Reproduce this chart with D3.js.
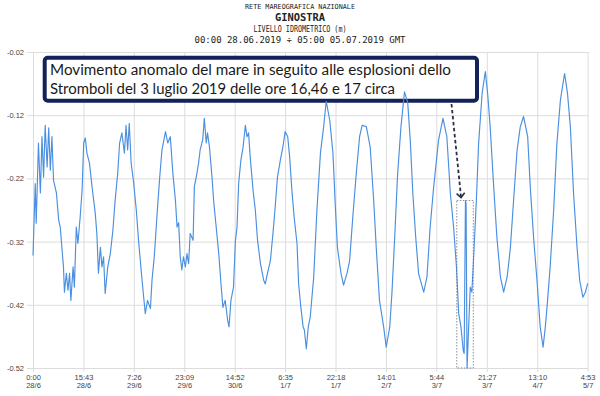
<!DOCTYPE html>
<html>
<head>
<meta charset="utf-8">
<script src="https://cdn.jsdelivr.net/npm/d3@7"></script>
<style>
  body { margin: 0; background: #fff; }
  svg { display: block; }
</style>
</head>
<body>
<svg id="chart" width="600" height="396"></svg>
<script>
// Titles
const titleLines = [
  'RETE MAREOGRAFICA NAZIONALE',
  'GINOSTRA',
  'LIVELLO IDROMETRICO (m)',
  '00:00 28.06.2019 \u00f7 05:00 05.07.2019 GMT'
];
const noteLines = [
  'Movimento anomalo del mare in seguito alle esplosioni dello',
  'Stromboli del 3 luglio 2019 delle ore 16,46 e 17 circa'
];

// Axis ticks (hours from 00:00 28/6, one tick every 15h43m)
const yTicks = [-0.52, -0.42, -0.32, -0.22, -0.12, -0.02];
const xTickHours = [0, 15.72, 31.43, 47.15, 62.87, 78.58, 94.3, 110.02, 125.73, 141.45, 157.17, 172.88];
const xTickTimes = ['0:00', '15:43', '7:26', '23:09', '14:52', '6:35', '22:18', '14:01', '5:44', '21:27', '13:10', '4:53'];
const xTickDays = ['28/6', '28/6', '29/6', '29/6', '30/6', '1/7', '1/7', '2/7', '3/7', '3/7', '4/7', '5/7'];

// Sea level (m), hours from start
const hours = [
  0.0, 0.7, 1.0, 1.7, 2.3, 2.8, 3.3, 3.8, 4.4, 4.9, 5.4, 5.9, 6.4, 7.3, 8.0, 8.5, 9.0, 9.5, 9.8, 10.4,
  10.9, 11.4, 11.8, 12.5, 12.9, 13.5, 14.0, 14.7, 15.3, 15.8, 16.3, 16.8, 17.6, 18.4, 19.4, 19.9, 20.4, 21.0, 21.5, 22.0,
  22.5, 23.3, 24.1, 24.9, 25.6, 26.4, 27.0, 27.7, 28.5, 29.0, 29.5, 30.0, 30.6, 31.4, 32.2, 32.9, 33.8, 34.5, 35.0, 35.7,
  36.6, 37.1, 37.8, 38.7, 39.5, 40.2, 41.3, 42.0, 42.8, 43.6, 44.4, 44.9, 45.4, 45.9, 46.4, 46.9, 47.5, 48.0, 48.5, 49.0,
  49.9, 50.3, 51.1, 51.6, 52.1, 52.9, 53.4, 54.0, 54.4, 55.0, 55.8, 56.3, 57.1, 57.9, 58.6, 59.2, 59.9, 60.7, 61.1, 61.7,
  62.5, 63.1, 63.6, 64.1, 64.8, 65.5, 66.2, 66.7, 67.2, 67.7, 68.6, 69.3, 70.0, 70.9, 71.9, 72.4, 73.1, 74.0, 74.8, 75.5,
  76.2, 77.1, 77.9, 78.6, 79.4, 80.0, 80.7, 81.4, 82.3, 82.8, 83.5, 84.2, 84.6, 85.2, 85.8, 86.4, 87.5, 88.5, 89.6, 90.6,
  91.4, 92.5, 93.5, 94.2, 94.9, 96.0, 96.8, 97.9, 98.7, 99.7, 100.8, 101.8, 102.6, 103.9, 105.1, 106.2, 107.0, 108.0, 109.3, 110.1,
  111.2, 111.9, 112.9, 113.6, 114.7, 115.8, 116.8, 117.6, 118.4, 119.3, 120.2, 121.8, 122.8, 123.8, 124.9, 126.4, 127.8, 129.0, 130.1, 131.1,
  132.0, 132.7, 133.4, 134.1, 134.4, 134.8, 135.0, 135.3, 135.8, 136.3, 136.8, 137.3, 138.2, 138.9, 140.0, 141.0, 141.7, 142.5, 143.6, 144.6,
  145.7, 146.7, 147.8, 148.8, 149.8, 150.9, 151.9, 152.9, 154.2, 155.0, 156.1, 157.1, 158.1, 159.0, 159.7, 160.4, 161.2, 162.3, 163.3, 164.4,
  165.7, 166.6, 167.5, 168.5, 169.6, 170.4, 171.4, 172.2, 172.9
];
const level = [
  -0.342, -0.228, -0.291, -0.164, -0.243, -0.154, -0.218, -0.136, -0.202, -0.140, -0.207, -0.154, -0.223, -0.243, -0.286, -0.297, -0.329, -0.360, -0.400, -0.370,
  -0.397, -0.370, -0.413, -0.360, -0.392, -0.297, -0.323, -0.281, -0.239, -0.164, -0.156, -0.180, -0.196, -0.233, -0.275, -0.307, -0.370, -0.329, -0.360, -0.344,
  -0.402, -0.360, -0.339, -0.302, -0.255, -0.212, -0.164, -0.148, -0.180, -0.136, -0.175, -0.133, -0.196, -0.228, -0.270, -0.318, -0.370, -0.408, -0.434, -0.413,
  -0.426, -0.381, -0.344, -0.275, -0.218, -0.175, -0.146, -0.164, -0.154, -0.212, -0.255, -0.297, -0.290, -0.344, -0.365, -0.344, -0.360, -0.339, -0.355, -0.307,
  -0.318, -0.233, -0.212, -0.196, -0.175, -0.159, -0.125, -0.164, -0.148, -0.170, -0.218, -0.255, -0.297, -0.339, -0.387, -0.424, -0.413, -0.445, -0.455, -0.413,
  -0.392, -0.318, -0.297, -0.228, -0.191, -0.170, -0.136, -0.154, -0.148, -0.186, -0.239, -0.270, -0.318, -0.355, -0.381, -0.387, -0.370, -0.350, -0.307, -0.265,
  -0.218, -0.191, -0.170, -0.146, -0.154, -0.186, -0.239, -0.281, -0.323, -0.387, -0.424, -0.455, -0.460, -0.490, -0.455, -0.440, -0.376, -0.270, -0.180, -0.138,
  -0.098, -0.128, -0.180, -0.260, -0.330, -0.370, -0.389, -0.370, -0.350, -0.280, -0.210, -0.154, -0.136, -0.138, -0.170, -0.255, -0.330, -0.413, -0.455, -0.487,
  -0.455, -0.400, -0.297, -0.218, -0.138, -0.083, -0.100, -0.160, -0.244, -0.313, -0.371, -0.400, -0.376, -0.297, -0.233, -0.160, -0.125, -0.154, -0.244, -0.297,
  -0.360, -0.434, -0.455, -0.492, -0.497, -0.255, -0.260, -0.520, -0.455, -0.392, -0.400, -0.350, -0.255, -0.165, -0.085, -0.051, -0.085, -0.138, -0.233, -0.313,
  -0.376, -0.400, -0.376, -0.330, -0.255, -0.175, -0.138, -0.122, -0.154, -0.233, -0.318, -0.381, -0.455, -0.487, -0.455, -0.413, -0.360, -0.270, -0.165, -0.096,
  -0.054, -0.085, -0.138, -0.244, -0.330, -0.381, -0.408, -0.400, -0.386
];

// Explosion window highlighted by the dotted box (hours, top level in m)
const eventWindow = [132.1, 137.25];
const eventTop = -0.255;

const svg = d3.select('#chart');
const plotLeft = 33, plotRight = 588, plotTop = 52, plotBottom = 368;

const x = d3.scaleLinear().domain([0, 173]).range([plotLeft, plotRight]);
const y = d3.scaleLinear().domain([-0.52, -0.02]).range([plotBottom, plotTop]);

// Title block
const titleStyle = [
  { y: 9, size: 7, weight: 'normal', len: 110 },
  { y: 21, size: 10, weight: 'bold', len: 50 },
  { y: 32, size: 8.5, weight: 'normal', len: 93 },
  { y: 43, size: 8.5, weight: 'normal', len: 211 }
];
svg.append('g')
  .selectAll('text')
  .data(titleLines)
  .join('text')
    .attr('x', 300)
    .attr('y', (d, i) => titleStyle[i].y)
    .attr('text-anchor', 'middle')
    .attr('font-family', 'DejaVu Sans Mono, monospace')
    .attr('font-size', (d, i) => titleStyle[i].size)
    .attr('font-weight', (d, i) => titleStyle[i].weight)
    .attr('textLength', (d, i) => titleStyle[i].len)
    .attr('lengthAdjust', 'spacingAndGlyphs')
    .attr('fill', '#222')
    .text(d => d);

// Y axis with grid
const yAxis = svg.append('g')
  .attr('transform', `translate(${plotLeft - 6},0)`)
  .call(d3.axisLeft(y)
    .tickValues(yTicks)
    .tickSize(-(plotRight - plotLeft + 6))
    .tickPadding(3)
    .tickFormat(d => d.toFixed(2)));
yAxis.select('.domain').remove();
yAxis.selectAll('line').attr('stroke', '#dcdcdc');
yAxis.selectAll('text')
  .attr('font-family', 'Liberation Sans, Arial, sans-serif')
  .attr('font-size', 7.5)
  .attr('fill', '#444');

// X axis with grid
const xAxis = svg.append('g')
  .attr('transform', `translate(0,${plotBottom + 4})`)
  .call(d3.axisBottom(x)
    .tickValues(xTickHours)
    .tickSize(-(plotBottom - plotTop + 4))
    .tickFormat(''));
xAxis.select('.domain').remove();
xAxis.selectAll('line').attr('stroke', '#dcdcdc');
xAxis.selectAll('.tick text').remove();
const xLabels = xAxis.selectAll('.tick')
  .append('text')
    .attr('text-anchor', 'middle')
    .attr('font-family', 'Liberation Sans, Arial, sans-serif')
    .attr('font-size', 7.5)
    .attr('fill', '#444');
xLabels.append('tspan')
  .attr('x', 0)
  .attr('y', 7.5)
  .text((d, i) => xTickTimes[i]);
xLabels.append('tspan')
  .attr('x', 0)
  .attr('y', 15.5)
  .text((d, i) => xTickDays[i]);

// Annotation box
svg.append('rect')
  .attr('x', 44.7)
  .attr('y', 57.7)
  .attr('width', 432.3)
  .attr('height', 43)
  .attr('rx', 3)
  .attr('fill', '#fff')
  .attr('stroke', '#13235a')
  .attr('stroke-width', 4);
svg.append('g')
  .selectAll('text')
  .data(noteLines)
  .join('text')
    .attr('x', 50)
    .attr('y', (d, i) => 75 + i * 18.5)
    .attr('font-family', 'Lato, Open Sans, sans-serif')
    .attr('font-size', 15.5)
    .attr('fill', '#1a1a1a')
    .attr('textLength', (d, i) => [401, 345][i])
    .attr('lengthAdjust', 'spacingAndGlyphs')
    .text(d => d);

// Sea level line
const series = hours.map((h, i) => ({ h, v: level[i] }));
svg.append('path')
  .datum(series)
  .attr('fill', 'none')
  .attr('stroke', '#4a8fe0')
  .attr('stroke-width', 1.15)
  .attr('stroke-linejoin', 'round')
  .attr('d', d3.line().x(d => x(d.h)).y(d => y(d.v)));

// Dotted box round the anomaly
svg.append('rect')
  .attr('x', x(eventWindow[0]))
  .attr('y', y(eventTop))
  .attr('width', x(eventWindow[1]) - x(eventWindow[0]))
  .attr('height', y(-0.52) - y(eventTop))
  .attr('fill', 'none')
  .attr('stroke', '#6b7280')
  .attr('stroke-width', 0.8)
  .attr('stroke-dasharray', '1.5,1.5');

// Dashed arrow from the note to the box
const ax0 = 451.5, ay0 = 104;
const ax1 = x(eventWindow[0]) + 4.3, ay1 = y(eventTop) - 3;
svg.append('line')
  .attr('x1', ax0).attr('y1', ay0)
  .attr('x2', ax1).attr('y2', ay1)
  .attr('stroke', '#2a2f45')
  .attr('stroke-width', 1.8)
  .attr('stroke-dasharray', '3.5,2.5');
const ang = Math.atan2(ay1 - ay0, ax1 - ax0);
const head = [ang + 2.4, ang - 2.4].map(a => [ax1 + 6 * Math.cos(a), ay1 + 6 * Math.sin(a)]);
svg.append('path')
  .attr('d', `M${head[0]}L${ax1},${ay1}L${head[1]}`)
  .attr('fill', 'none')
  .attr('stroke', '#2a2f45')
  .attr('stroke-width', 1.6);
</script>
</body>
</html>
